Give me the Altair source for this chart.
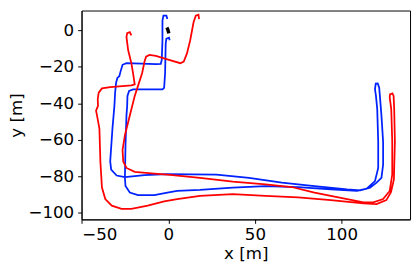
import altair as alt
import pandas as pd

# Trajectories (metres)
blue_x = [-0.57, -1.13, -2.83, -3.40, -3.40, -3.79, -4.36, -7.19, -24.17, -26.43,
          -27.57, -28.30, -29.43, -30.17, -30.73, -31.13, -32.26, -33.56, -33.0, -29.83,
          -25.07, -13.75, -0.57, 27.74, 46.58, 65.49, 84.34, 103.19, 110.77, 116.43,
          120.17, 123.0, 123.96, 123.96, 123.0, 122.09, 121.70, 120.85, 119.71, 119.26,
          119.83, 120.56, 121.13, 121.13, 119.26, 114.51, 108.85, 93.79, 74.88, 56.04,
          37.19, 18.28, 5.09, -0.57, -8.09, -17.55, -22.24, -24.73, -25.07, -24.73,
          -24.17, -23.77, -23.60, -22.64, -20.38, -3.40, -2.43, -1.87, -1.53, -1.13,
          0.40, 0.74]
blue_y = [6.25, 8.09, 8.09, 5.39, -5.39, -16.17, -18.33, -18.54, -18.0, -18.87,
          -22.48, -25.18, -26.09, -28.79, -34.18, -41.35, -53.91, -71.91, -76.39, -79.62,
          -80.54, -79.46, -78.81, -79.08, -80.86, -83.56, -85.39, -87.17, -87.71, -86.25,
          -83.56, -80.86, -73.69, -61.13, -46.74, -35.96, -31.48, -29.11, -29.22, -32.35,
          -35.96, -43.13, -61.13, -75.47, -82.70, -86.79, -88.09, -87.17, -85.93, -85.39,
          -86.25, -87.55, -88.09, -88.95, -90.40, -90.40, -88.95, -85.39, -80.86, -62.91,
          -46.74, -41.35, -35.96, -33.26, -32.35, -32.35, -31.48, -23.40, -7.22, -4.53,
          -3.99, -5.39]

red_x = [-21.34, -22.24, -23.77, -24.17, -23.21, -21.34, -20.38, -19.41, -21.34, -33.57,
         -38.32, -40.19, -40.76, -40.59, -41.72, -41.15, -39.79, -39.23, -38.32, -36.40,
         -32.66, -27.0, -21.34, -11.89, -2.43, 5.09, 18.28, 37.19, 56.04, 74.88,
         93.79, 112.64, 120.17, 125.83, 128.49, 130.19, 130.75, 130.36, 130.02, 129.34,
         127.93, 127.76, 128.66, 129.23, 129.23, 127.76, 123.96, 118.30, 112.64, 103.19,
         84.34, 71.15, 56.04, 37.19, 18.28, -0.57, -8.09, -19.41, -24.17, -26.04,
         -26.43, -25.07, -22.24, -19.41, -17.55, -15.11, -13.75, -12.85, -10.92, -7.19,
         0.40, 6.96, 8.89, 10.75, 12.62, 14.55, 15.85, 17.38, 17.72]
red_y = [-2.70, -0.92, -1.46, -3.61, -10.78, -18.0, -23.40, -29.65, -30.19, -31.11,
         -31.81, -34.18, -37.74, -41.35, -44.04, -46.74, -53.91, -71.91, -86.25, -92.56,
         -96.17, -97.95, -97.95, -96.17, -93.80, -92.56, -90.78, -89.87, -90.78, -91.64,
         -93.10, -94.88, -95.26, -93.10, -88.79, -81.78, -61.13, -43.13, -35.96, -34.61,
         -35.15, -36.87, -43.13, -61.13, -79.08, -88.09, -92.56, -94.34, -94.34, -92.56,
         -88.95, -85.93, -84.47, -83.02, -80.86, -79.08, -78.54, -77.63, -75.47, -71.91,
         -65.61, -57.52, -46.74, -35.96, -30.57, -23.40, -17.09, -14.39, -13.48, -14.02,
         -16.17, -18.0, -17.09, -12.61, -5.39, 4.47, 8.09, 8.63, 6.25]

black_x = [-0.85, -0.3, 0.28]
black_y = [1.6, 0.5, -1.6]

x_ticks = [-50, 0, 50, 100]
y_ticks = [0, -20, -40, -60, -80, -100]


def frame(xs, ys, name):
    return pd.DataFrame({"x": xs, "y": ys, "series": name, "i": range(len(xs))})


df_blue = frame(blue_x, blue_y, "blue")
df_red = frame(red_x, red_y, "red")
df_black = frame(black_x, black_y, "black")

xs = alt.Scale(domain=[-50.1, 139.5], nice=False, zero=False)
ys = alt.Scale(domain=[-103.7, 10.9], nice=False, zero=False)
X = alt.X("x:Q", scale=xs, title="x [m]", axis=alt.Axis(values=x_ticks, grid=False))
Y = alt.Y("y:Q", scale=ys, title="y [m]", axis=alt.Axis(values=y_ticks, grid=False))


def layer(df, color, width):
    return alt.Chart(df).mark_line(color=color, strokeWidth=width, clip=True).encode(
        x=X, y=Y, order="i:Q")


chart = alt.layer(
    layer(df_blue, "#0022ff", 1.8),
    layer(df_red, "#ff0000", 1.8),
    layer(df_black, "#000000", 3.5),
).properties(
    width=335, height=213,
    autosize=alt.AutoSizeParams(type="none"),
    padding={"left": 75, "top": 0, "right": 2, "bottom": 48},
).configure_axis(
    labelFont="DejaVu Sans", titleFont="DejaVu Sans",
    labelFontSize=17, titleFontSize=17, titleFontWeight="normal",
    labelColor="black", titleColor="black",
    domainColor="black", tickColor="black", tickSize=4, domainWidth=1,
    labelPadding=4,
).configure_axisY(titlePadding=3, labelPadding=4).configure_axisX(titlePadding=3).configure_view(
    stroke="black", strokeWidth=1
)

chart.save("out.html", embed_options={"renderer": "svg", "actions": False})
